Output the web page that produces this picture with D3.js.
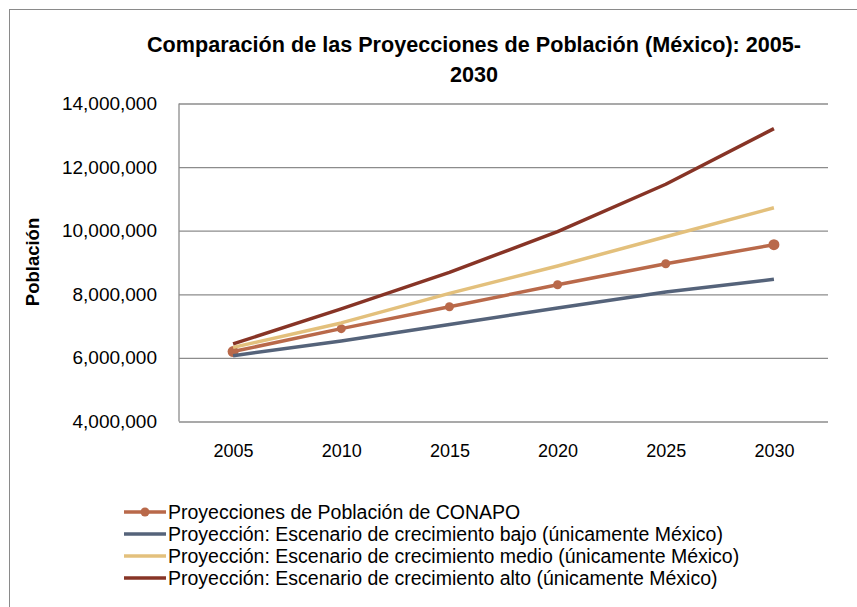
<!DOCTYPE html>
<html lang="es">
<meta charset="utf-8" />
<style>
  body { margin: 0; background: #fff; }
  svg { font-family: "Liberation Sans", Arial, sans-serif; }
</style>
<svg width="857" height="607"></svg>
<script src="https://d3js.org/d3.v7.min.js"></script>
<script>
// datos
var years = ["2005", "2010", "2015", "2020", "2025", "2030"];
var conapo = [6200000, 6920000, 7610000, 8300000, 8960000, 9560000];
var bajo   = [6070000, 6530000, 7050000, 7570000, 8070000, 8470000];
var medio  = [6330000, 7100000, 8030000, 8890000, 9810000, 10720000];
var alto   = [6440000, 7540000, 8690000, 9970000, 11460000, 13210000];
var yTicks = [4000000, 6000000, 8000000, 10000000, 12000000, 14000000];

var series = [
  { name: "Proyecciones de Población de CONAPO", values: conapo, color: "#B9694A", marker: true },
  { name: "Proyección: Escenario de crecimiento bajo (únicamente México)", values: bajo, color: "#55637A", marker: false },
  { name: "Proyección: Escenario de crecimiento medio (únicamente México)", values: medio, color: "#E3C07C", marker: false },
  { name: "Proyección: Escenario de crecimiento alto (únicamente México)", values: alto, color: "#873426", marker: false }
];

var svg = d3.select("svg");

// borde del gráfico
svg.append("rect")
  .attr("x", 9.5).attr("y", 9.5)
  .attr("width", 900).attr("height", 700)
  .attr("fill", "none")
  .attr("stroke", "#8a8a8a");

var x = d3.scalePoint()
  .domain(years)
  .range([179, 828])
  .padding(0.5);

var y = d3.scaleLinear()
  .domain([4000000, 14000000])
  .range([421.5, 103.5]);

// título
var title = svg.append("text")
  .attr("text-anchor", "middle")
  .attr("font-weight", "bold")
  .attr("font-size", 21.6)
  .attr("fill", "#000");
title.append("tspan").attr("x", 474).attr("y", 52).text("Comparación de las Proyecciones de Población (México): 2005-");
title.append("tspan").attr("x", 474).attr("y", 82).text("2030");

// rejilla
svg.append("g")
  .attr("transform", "translate(179,0)")
  .call(d3.axisLeft(y).tickValues(yTicks).tickSize(-649).tickFormat(d3.format(",")))
  .call(function(g) { g.select(".domain").remove(); })
  .call(function(g) {
    g.selectAll(".tick line").attr("stroke", "#8c8c8c").attr("stroke-width", 1.3);
    g.selectAll(".tick text").attr("x", -22).attr("font-size", 19).attr("fill", "#000");
  })
  .attr("font-family", null);

// eje vertical
svg.append("line")
  .attr("x1", 179).attr("x2", 179)
  .attr("y1", y(14000000)).attr("y2", y(4000000))
  .attr("stroke", "#8c8c8c").attr("stroke-width", 1.3);

// eje x
svg.append("g")
  .attr("transform", "translate(0," + y(4000000) + ")")
  .call(d3.axisBottom(x).tickSize(0).tickPadding(23))
  .call(function(g) { g.select(".domain").remove(); })
  .call(function(g) { g.selectAll("text").attr("font-size", 18).attr("fill", "#000"); })
  .attr("font-family", null);

svg.append("text")
  .attr("transform", "translate(39,262) rotate(-90)")
  .attr("text-anchor", "middle")
  .attr("font-weight", "bold")
  .attr("font-size", 18.5)
  .text("Población");

var line = d3.line()
  .x(function(d, i) { return x(years[i]); })
  .y(function(d) { return y(d); });

series.forEach(function(s) {
  svg.append("path")
    .attr("d", line(s.values))
    .attr("fill", "none")
    .attr("stroke", s.color)
    .attr("stroke-width", 3.5)
    .attr("stroke-linejoin", "round");
  if (s.marker) {
    svg.selectAll(null)
      .data(s.values)
      .enter().append("circle")
      .attr("cx", function(d, i) { return x(years[i]); })
      .attr("cy", function(d) { return y(d); })
      .attr("r", function(d, i) { return (i === 0 || i === years.length - 1) ? 5.5 : 4.5; })
      .attr("fill", s.color);
  }
});

// leyenda
var legend = svg.append("g");
var item = legend.selectAll("g")
  .data(series)
  .enter().append("g")
  .attr("transform", function(d, i) { return "translate(124," + (512 + i * 22) + ")"; });

item.append("line")
  .attr("x1", 0).attr("x2", 42)
  .attr("stroke", function(d) { return d.color; })
  .attr("stroke-width", 3.5);
item.filter(function(d) { return d.marker; })
  .append("circle")
  .attr("cx", 21).attr("r", 4.5)
  .attr("fill", function(d) { return d.color; });
item.append("text")
  .attr("x", 44)
  .attr("dy", "0.35em")
  .attr("font-size", 19.5)
  .text(function(d) { return d.name; });
</script>
</html>
